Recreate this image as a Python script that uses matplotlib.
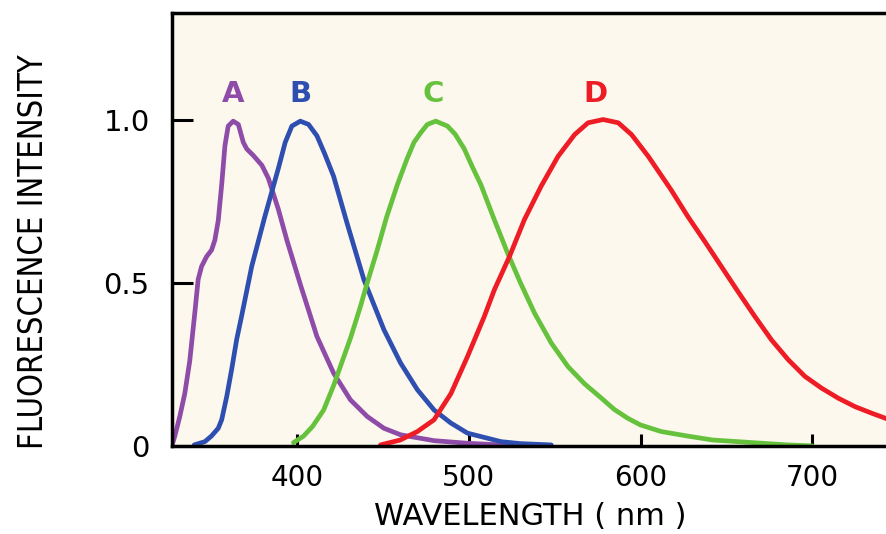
import numpy as np
import matplotlib
matplotlib.use('agg')
import matplotlib.pyplot as plt

# spectra (wavelength in nm, normalised intensity)
a_nm = [327, 328.7, 331.6, 334.5, 337.4, 340.4, 342.3, 344.3, 347.2, 350.1, 352, 354, 356, 357.9,
        359.8, 362.7, 365.7, 368.6, 370.6, 374.4, 379.4, 383.2, 389, 394, 401.8, 411.5, 421.2,
        431, 440.8, 450.5, 460.2, 479.7, 499.2, 518.7, 530]
a_int = [0.0, 0.03, 0.09, 0.16, 0.26, 0.41, 0.51, 0.55, 0.58, 0.60, 0.63, 0.69, 0.80, 0.92,
         0.98, 0.995, 0.985, 0.93, 0.91, 0.89, 0.86, 0.82, 0.725, 0.63, 0.495, 0.335, 0.223,
         0.141, 0.09, 0.054, 0.034, 0.016, 0.008, 0.003, 0.0]

b_nm = [340, 346.2, 350, 354, 356, 358.9, 362, 364.7, 367.7, 373.5, 381, 389, 393, 396.9, 401.8,
        406.6, 411.5, 416, 421.2, 429, 438.8, 450.5, 460.2, 470, 479.7, 489.5, 499.2, 518.7,
        530, 548]
b_int = [0.003, 0.013, 0.03, 0.054, 0.08, 0.15, 0.24, 0.325, 0.40, 0.55, 0.70, 0.85, 0.93, 0.98,
         0.995, 0.985, 0.95, 0.895, 0.826, 0.683, 0.51, 0.356, 0.254, 0.172, 0.11, 0.07, 0.039,
         0.013, 0.007, 0.003]

c_nm = [397.8, 403.7, 409, 415.4, 421.2, 431, 436.8, 440.8, 446.6, 452, 458.3, 464, 468, 472,
        475.8, 480.7, 487.5, 492, 497.3, 502, 507, 514.8, 522.6, 530, 538.2, 548, 557.7, 567.4,
        576.8, 584.6, 592.4, 600, 612, 627.5, 642, 656.7, 671, 686, 700]
c_int = [0.01, 0.03, 0.06, 0.11, 0.185, 0.33, 0.427, 0.50, 0.60, 0.70, 0.80, 0.88, 0.93, 0.96,
         0.985, 0.995, 0.98, 0.955, 0.91, 0.855, 0.80, 0.693, 0.59, 0.50, 0.407, 0.315, 0.243,
         0.19, 0.148, 0.112, 0.085, 0.064, 0.044, 0.03, 0.018, 0.013, 0.008, 0.003, 0.0]

d_nm = [448.5, 460, 470, 479.7, 489.5, 499.2, 509, 514.8, 523.6, 532.3, 542, 551.9, 561.6, 569.4,
        578.2, 587, 594.7, 604.5, 617.7, 627.5, 637.3, 647, 656.7, 666.5, 676.2, 686, 695.7,
        705.4, 715.2, 725, 734.7, 745]
d_int = [0.003, 0.018, 0.044, 0.08, 0.16, 0.274, 0.397, 0.478, 0.58, 0.693, 0.795, 0.887, 0.954,
         0.99, 1.0, 0.99, 0.954, 0.887, 0.785, 0.703, 0.627, 0.55, 0.473, 0.397, 0.325, 0.264,
         0.213, 0.177, 0.146, 0.12, 0.10, 0.08]

labels = ['A', 'B', 'C', 'D']
label_nm = [362.6, 401.8, 479, 573.5]
colors = ['#8e4ca8', '#2f4fb0', '#66c23d', '#ee1c24']

fig = plt.figure(figsize=(8.86, 5.34), dpi=100)
ax = fig.add_axes([0.194, 0.165, 0.81, 0.811])
ax.set_facecolor('#fcf8ee')

for xs, ys, c in zip([a_nm, b_nm, c_nm, d_nm], [a_int, b_int, c_int, d_int], colors):
    ax.plot(xs, ys, color=c, lw=3.4, solid_capstyle='round', solid_joinstyle='round')

for lab, x, c in zip(labels, label_nm, colors):
    ax.text(x, 1.077, lab, color=c, fontsize=21, fontweight='bold', ha='center', va='center')

ax.set_xlim(327, 745)
ax.set_ylim(0, 1.327)

ax.set_xticks([400, 500, 600, 700])
ax.set_xticklabels(['400', '500', '600', '700'])
ax.set_yticks([0, 0.5, 1.0])
ax.set_yticklabels(['0', '0.5', '1.0'])

ax.spines['right'].set_visible(False)
for s in ['left', 'top', 'bottom']:
    ax.spines[s].set_linewidth(2.5)
ax.tick_params(axis='x', direction='in', length=9, width=2.2, pad=13, labelsize=20)
ax.tick_params(axis='y', direction='in', length=15, width=2.2, pad=16, labelsize=21)

ax.set_xlabel('WAVELENGTH ( nm )', fontsize=22, labelpad=7)
ax.set_ylabel('FLUORESCENCE INTENSITY', fontsize=23.5, fontstretch='condensed')
ax.yaxis.set_label_coords(-0.193, 0.448)
ax.yaxis.label.set_va('center')

fig.savefig('out.png', dpi=100)
